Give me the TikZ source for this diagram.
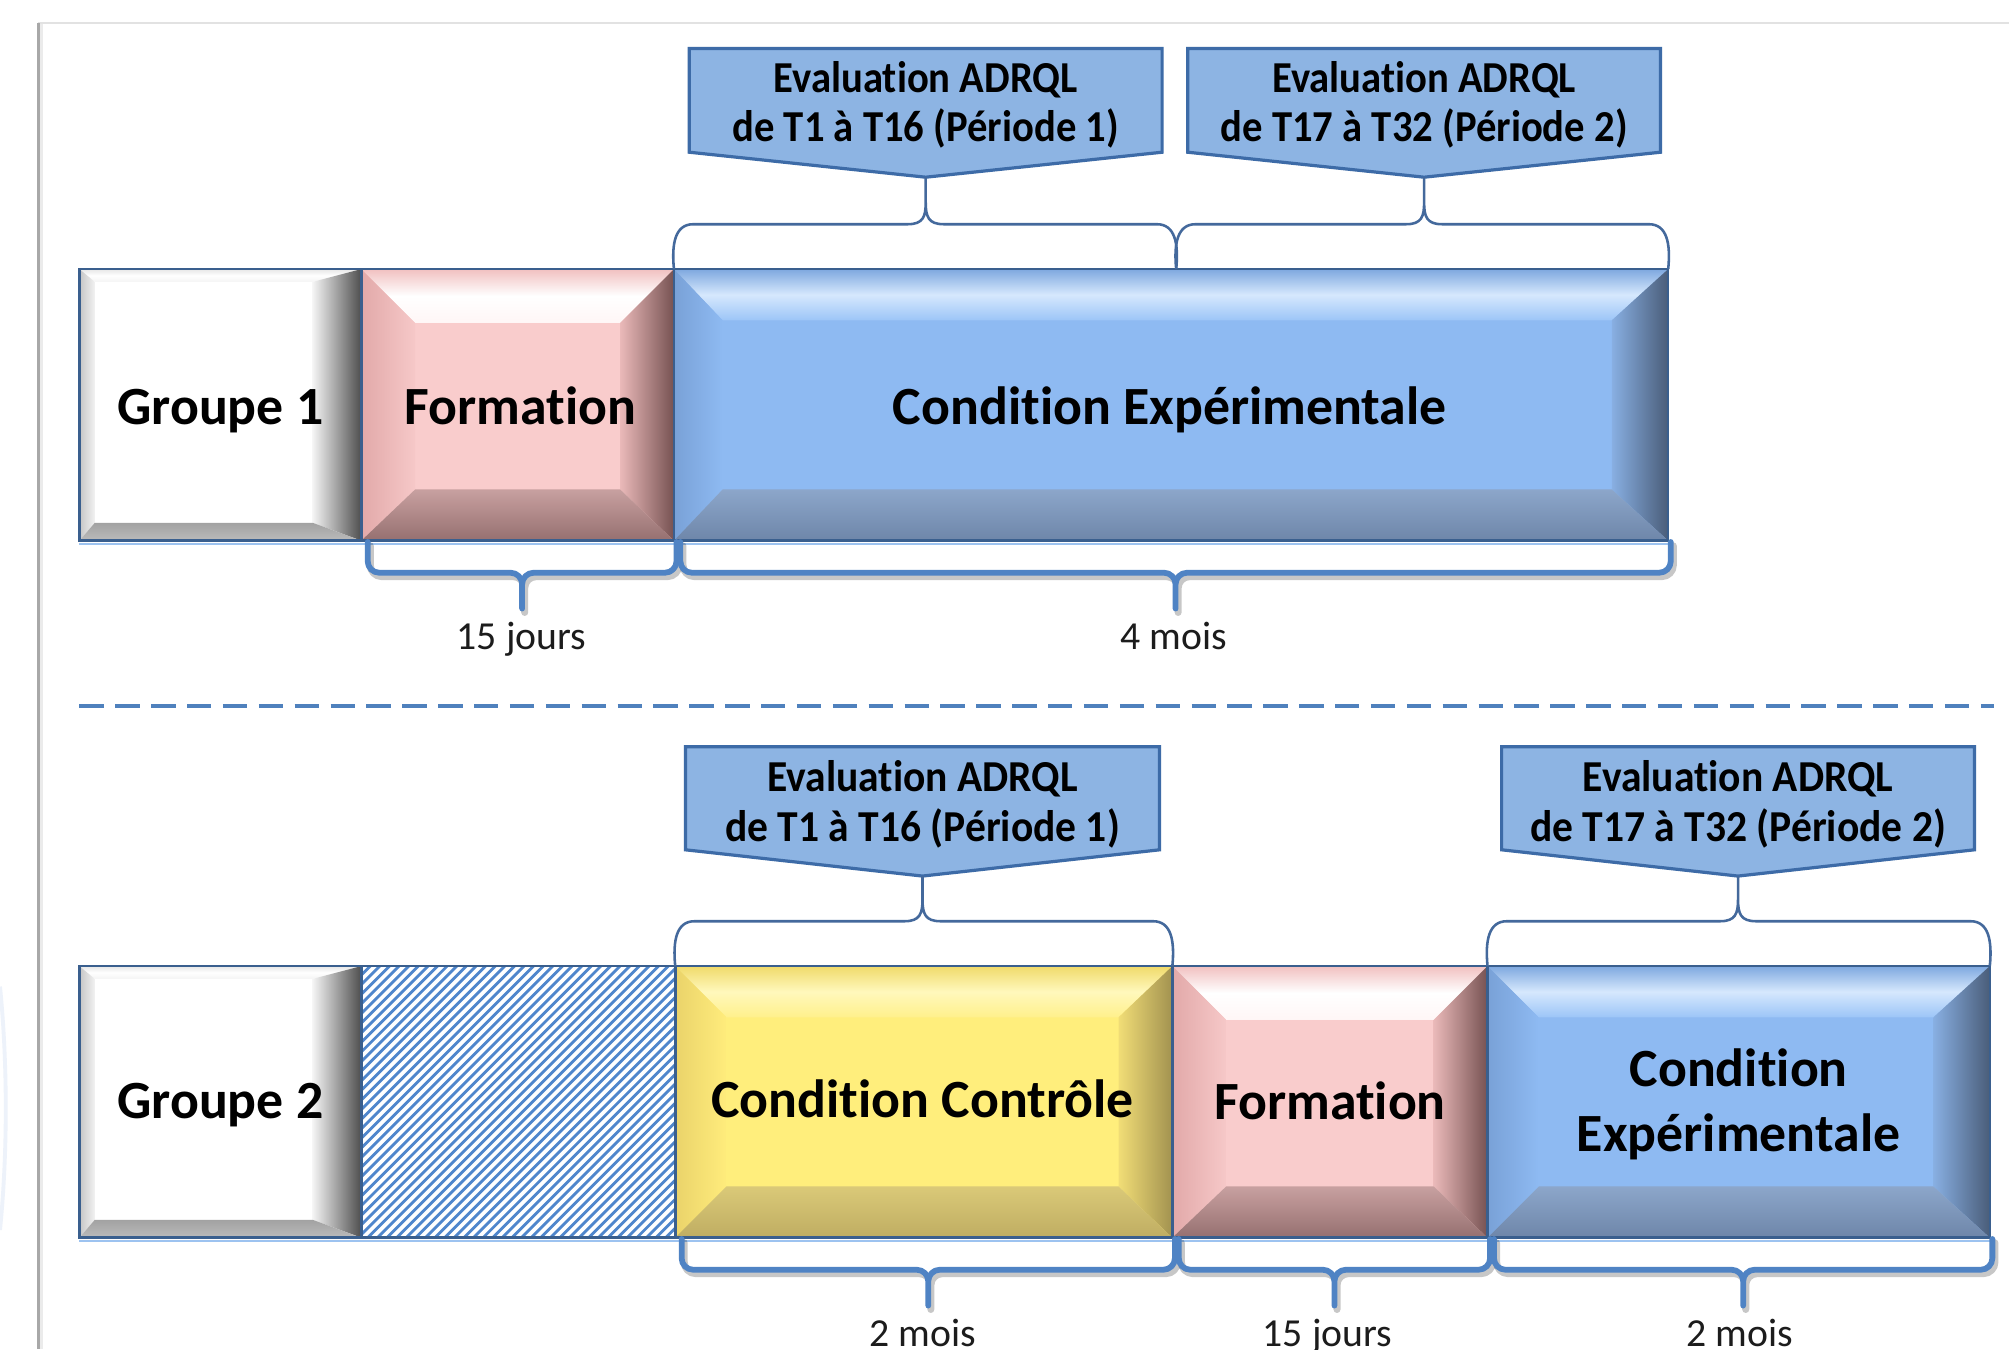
\documentclass[tikz,border=0pt]{standalone}
\usepackage{fontspec}
\setmainfont{Carlito}[Ligatures=NoCommon]
\usepackage{graphicx}
\usetikzlibrary{calc}
\pgfdeclarelayer{background}
\pgfdeclarelayer{canvas}
\pgfsetlayers{canvas,background,main}

\definecolor{boxborder}{HTML}{3A5F8E}
\definecolor{callfill}{HTML}{8DB4E3}
\definecolor{callborder}{HTML}{3D6BA7}
\definecolor{tbracecol}{HTML}{44699C}
\definecolor{bbracecol}{HTML}{4F83C4}
\definecolor{dashcol}{HTML}{4F81BD}
\definecolor{hatchcol}{HTML}{4F86CC}
\definecolor{lightline}{HTML}{9DC3F0}
\definecolor{framelight}{HTML}{E2E2E2}
\definecolor{framedark}{HTML}{A8A8A8}
\definecolor{faintblue}{HTML}{EDF2FA}
\definecolor{durtext}{HTML}{1C1C1C}
% white bevel
\definecolor{whface}{HTML}{FFFFFF}
\definecolor{whtA}{HTML}{E6E6E6}\definecolor{whtB}{HTML}{FFFFFF}\definecolor{whtC}{HTML}{F4F4F4}
\definecolor{whlA}{HTML}{C6C6C6}\definecolor{whlB}{HTML}{F2F2F2}
\definecolor{whrA}{HTML}{F4F4F4}\definecolor{whrB}{HTML}{4E4E4E}
\definecolor{whbA}{HTML}{A2A2A2}\definecolor{whbB}{HTML}{BBBBBB}
% pink bevel
\definecolor{pkface}{HTML}{F9CCCC}
\definecolor{pktA}{HTML}{F1C0C0}\definecolor{pktB}{HTML}{FFFFFF}\definecolor{pktC}{HTML}{FFF6F6}
\definecolor{pklA}{HTML}{E2A9A9}\definecolor{pklB}{HTML}{F6C8C8}
\definecolor{pkrA}{HTML}{EAB9B9}\definecolor{pkrB}{HTML}{765252}
\definecolor{pkbA}{HTML}{C8A0A0}\definecolor{pkbB}{HTML}{957070}
% blue bevel
\definecolor{blface}{HTML}{8EBAF2}
\definecolor{bltA}{HTML}{7EA8DF}\definecolor{bltB}{HTML}{D6E8FD}\definecolor{bltC}{HTML}{9CC5F7}
\definecolor{bllA}{HTML}{79A1D7}\definecolor{bllB}{HTML}{8EBAF2}
\definecolor{blrA}{HTML}{88AFE2}\definecolor{blrB}{HTML}{4A5D79}
\definecolor{blbA}{HTML}{8CA6CA}\definecolor{blbB}{HTML}{6E86A9}
% yellow bevel
\definecolor{yeface}{HTML}{FFEE7C}
\definecolor{yetA}{HTML}{F0DA6A}\definecolor{yetB}{HTML}{FFF8BC}\definecolor{yetC}{HTML}{FFF08C}
\definecolor{yelA}{HTML}{EAD36A}\definecolor{yelB}{HTML}{FFEC7C}
\definecolor{yerA}{HTML}{F1DD76}\definecolor{yerB}{HTML}{A29250}
\definecolor{yebA}{HTML}{DAC978}\definecolor{yebB}{HTML}{BFAD62}

% bevel drawing inside a node's path picture: #1 left, #2 top, #3 right, #4 bottom widths, #5 colour prefix
\newcommand\bevelpic[5]{%
  \coordinate (bNW) at (path picture bounding box.north west);
  \coordinate (bNE) at (path picture bounding box.north east);
  \coordinate (bSE) at (path picture bounding box.south east);
  \coordinate (bSW) at (path picture bounding box.south west);
  \coordinate (iNW) at ($(bNW)+(#1,#2)$);
  \coordinate (iNE) at ($(bNE)+(-#3,#2)$);
  \coordinate (iSE) at ($(bSE)+(-#3,-#4)$);
  \coordinate (iSW) at ($(bSW)+(#1,-#4)$);
  \fill[#5face] (bNW) rectangle (bSE);
  \shade[top color=#5tA, bottom color=#5tC, middle color=#5tB] (bNW) -- (bNE) -- (iNE) -- (iNW) -- cycle;
  \shade[left color=#5lA, right color=#5lB] (bNW) -- (iNW) -- (iSW) -- (bSW) -- cycle;
  \shade[left color=#5rA, right color=#5rB] (bNE) -- (iNE) -- (iSE) -- (bSE) -- cycle;
  \shade[top color=#5bA, bottom color=#5bB] (bSW) -- (iSW) -- (iSE) -- (bSE) -- cycle;
}

% thin brace above: #1 left point, #2 right point, #3 tip point
\newcommand\tbr[3]{%
  \draw[tbrace] let \p1=(#1), \p2=(#2), \p3=(#3) in
    (\x1,\y1) .. controls (\x1-2pt,\y1+20pt) and (\x1+1pt,\y1+35pt) .. (\x1+15pt,\y1+35pt)
    -- (\x3-14pt,\y1+35pt) .. controls (\x3-2pt,\y1+35pt) and (\x3,\y1+41pt) .. (\x3,\y1+52pt) -- (\x3,\y3)
    (\x3,\y3) -- (\x3,\y1+52pt) .. controls (\x3,\y1+41pt) and (\x3+2pt,\y1+35pt) .. (\x3+14pt,\y1+35pt)
    -- (\x2-15pt,\y1+35pt) .. controls (\x2-1pt,\y1+35pt) and (\x2+2pt,\y1+20pt) .. (\x2,\y2);
}
% thick brace below node #1, style #2, offset #3 #4
\newcommand\bbr[4]{%
  \draw[#2] let \p1=(#1.south west), \p2=(#1.south east), \p3=($(#1.south west)!0.5!(#1.south east)$) in
    (\x1+5pt+#3,\y1-1pt+#4) -- (\x1+5pt+#3,\y1-25pt+#4) -- (\x3+3.5pt+#3,\y1-25pt+#4) -- (\x3+3.5pt+#3,\y1-53pt+#4)
    (\x2+2pt+#3,\y1-1pt+#4) -- (\x2+2pt+#3,\y1-25pt+#4) -- (\x3+3.5pt+#3,\y1-25pt+#4) -- (\x3+3.5pt+#3,\y1-53pt+#4);
}

\begin{document}
\begin{tikzpicture}[x=1pt,y=-1pt,
  box/.style={draw=boxborder, line width=2pt, inner sep=0pt, outer sep=0pt, minimum height=212pt},
  lbl/.style={font=\fontsize{42}{50}\selectfont\bfseries, anchor=base, inner sep=0pt},
  ctxt/.style={font=\fontsize{34.5}{38}\selectfont\bfseries, anchor=base, inner sep=0pt},
  dur/.style={font=\fontsize{31}{36}\selectfont, anchor=base, inner sep=0pt, text=durtext},
  cbox/.style={inner sep=0pt, outer sep=0pt, minimum width=369pt, minimum height=81pt},
  callout/.style={fill=callfill, draw=callborder, line width=2.5pt, line join=miter},
  tbrace/.style={draw=tbracecol, line width=2pt},
  bbrace/.style={draw=bbracecol, line width=4.5pt, rounded corners=9pt, line cap=round, line join=round},
  bshadow/.style={draw=black, opacity=0.22, line width=5.5pt, rounded corners=9pt, line cap=round, line join=round},
  hatchline/.style={draw=hatchcol, line width=2.2pt},
]
\useasboundingbox (0,0) rectangle (1568,1053);
\begin{pgfonlayer}{canvas}
\fill[white] (0,0) rectangle (1568,1053);
\end{pgfonlayer}

% frame
\draw[framelight, line width=1.5pt] (30,18) -- (1568,18);
\draw[framedark, line width=2pt] (30,18) -- (30,1053);
\draw[black!8, line width=2pt] (32.5,19) -- (32.5,1053);
\draw[faintblue, line width=3pt] (0,770) .. controls (6,830) and (6,900) .. (0,960);

% ---------- Row 1 ----------
\node[box, minimum width=220pt, path picture={\bevelpic{12}{10}{38}{14}{wh}}] (g1) at (172,316) {};
\node[box, minimum width=244pt, path picture={\bevelpic{42}{42}{42}{40}{pk}}] (f1) at (404,316) {};
\node[box, minimum width=776pt, path picture={\bevelpic{38}{40}{44}{40}{bl}}] (ce1) at (914,316) {};
\draw[lightline, line width=2pt] ($(g1.south west)+(0,2.5)$) -- ($(ce1.south east)+(0,2.5)$);

\node[lbl] (g1t) at (172,331) {Groupe 1};
\node[lbl] (f1t) at (406,331) {Formation};
\node[lbl] (ce1t) at (913,331) {Condition Expérimentale};

% callouts row 1
\node[cbox] (c1) at (722.5,78.3) {};
\node[cbox] (c2) at (1111.5,78.3) {};
\coordinate (c1tip) at ($(c1.south)+(0,19.5)$);
\coordinate (c2tip) at ($(c2.south)+(0,19.5)$);
\begin{pgfonlayer}{background}
\draw[callout] (c1.north west) -- (c1.north east) -- (c1.south east) -- (c1tip) -- (c1.south west) -- cycle;
\draw[callout] (c2.north west) -- (c2.north east) -- (c2.south east) -- (c2tip) -- (c2.south west) -- cycle;
\end{pgfonlayer}
\node[ctxt] (c1a) at (722.5,72.5) {\scalebox{0.92}[1]{Evaluation ADRQL}};
\node[ctxt] (c1b) at (722.5,110.5) {\scalebox{0.92}[1]{de T1 à T16 (Période 1)}};
\node[ctxt] (c2a) at (1111.5,72.5) {\scalebox{0.92}[1]{Evaluation ADRQL}};
\node[ctxt] (c2b) at (1111.5,110.5) {\scalebox{0.92}[1]{de T17 à T32 (Période 2)}};

% top braces row 1
\coordinate (ce1mid) at ($(ce1.north)+(4,0)$);
\tbr{ce1.north west}{ce1mid}{c1tip}
\tbr{ce1mid}{ce1.north east}{c2tip}

% bottom braces row 1
\bbr{f1}{bshadow}{2pt}{-3pt}
\bbr{ce1}{bshadow}{2pt}{-3pt}
\bbr{f1}{bbrace}{0pt}{0pt}
\bbr{ce1}{bbrace}{0pt}{0pt}
\node[dur] (d1) at (407,507) {15 jours};
\node[dur] (d2) at (916,507) {4 mois};

% separator
\coordinate (dashL) at (62,551);
\coordinate (dashR) at (1556,551);
\draw[dashcol, line width=3pt, dash pattern=on 19pt off 9pt] (dashL) -- (dashR);

% ---------- Row 2 ----------
\node[box, minimum width=220pt, path picture={\bevelpic{12}{10}{38}{14}{wh}}] (g2) at (172,860) {};
\node[box, minimum width=245pt, fill=white] (hb) at (404.5,860) {};
\begin{scope}
\clip (hb.south west) rectangle (hb.north east);
\foreach \i in {0,...,66} {\draw[hatchline] ($(hb.south west)+(\i*7.5-220,0)$) -- ++(235,-235);}
\end{scope}
\draw[boxborder, line width=2pt] (hb.south west) rectangle (hb.north east);
\node[box, minimum width=388pt, path picture={\bevelpic{40}{40}{42}{40}{ye}}] (cc) at (721,860) {};
\node[box, minimum width=246pt, path picture={\bevelpic{42}{42}{42}{40}{pk}}] (f2) at (1038,860) {};
\node[box, minimum width=392pt, path picture={\bevelpic{40}{40}{44}{40}{bl}}] (ce2) at (1357,860) {};
\draw[lightline, line width=2pt] ($(g2.south west)+(0,2.5)$) -- ($(ce2.south east)+(0,2.5)$);

\node[lbl] (g2t) at (172,873) {Groupe 2};
\node[lbl] (cct) at (720,872) {Condition Contrôle};
\node[lbl] (f2t) at (1038,874) {Formation};
\node[lbl] (ce2ta) at (1357,848) {Condition};
\node[lbl] (ce2tb) at (1357,898.5) {Expérimentale};

% callouts row 2
\node[cbox, minimum width=370pt, minimum height=80.5pt] (c3) at (720,623) {};
\node[cbox, minimum width=369pt, minimum height=80.5pt] (c4) at (1356.5,623) {};
\coordinate (c3tip) at ($(c3.south)+(0,20.5)$);
\coordinate (c4tip) at ($(c4.south)+(0,20.5)$);
\begin{pgfonlayer}{background}
\draw[callout] (c3.north west) -- (c3.north east) -- (c3.south east) -- (c3tip) -- (c3.south west) -- cycle;
\draw[callout] (c4.north west) -- (c4.north east) -- (c4.south east) -- (c4tip) -- (c4.south west) -- cycle;
\end{pgfonlayer}
\node[ctxt] (c3a) at (720,618) {\scalebox{0.94}[1]{Evaluation ADRQL}};
\node[ctxt] (c3b) at (720,657) {\scalebox{0.94}[1]{de T1 à T16 (Période 1)}};
\node[ctxt] (c4a) at (1356.5,618) {\scalebox{0.94}[1]{Evaluation ADRQL}};
\node[ctxt] (c4b) at (1356.5,657) {\scalebox{0.94}[1]{de T17 à T32 (Période 2)}};

% top braces row 2
\tbr{cc.north west}{cc.north east}{c3tip}
\tbr{ce2.north west}{ce2.north east}{c4tip}

% bottom braces row 2
\bbr{cc}{bshadow}{2pt}{-3pt}
\bbr{f2}{bshadow}{2pt}{-3pt}
\bbr{ce2}{bshadow}{2pt}{-3pt}
\bbr{cc}{bbrace}{0pt}{0pt}
\bbr{f2}{bbrace}{0pt}{0pt}
\bbr{ce2}{bbrace}{0pt}{0pt}
\node[dur] (d3) at (720,1051) {2 mois};
\node[dur] (d4) at (1036,1051) {15 jours};
\node[dur] (d5) at (1358,1051) {2 mois};
\end{tikzpicture}
\end{document}
